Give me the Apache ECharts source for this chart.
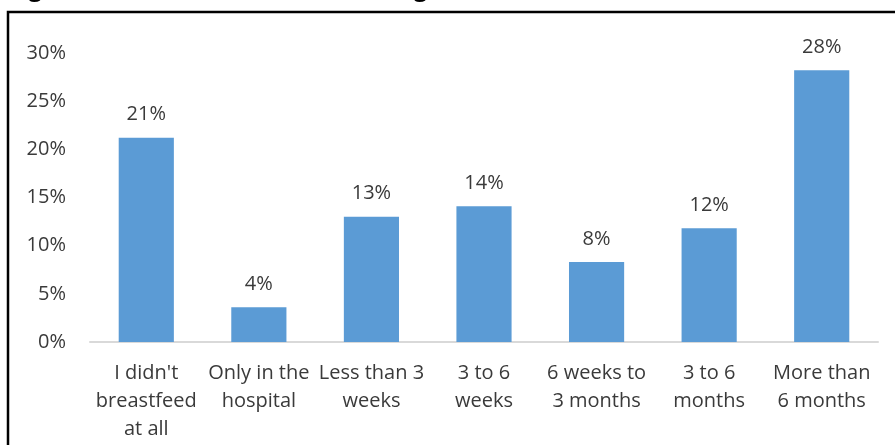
<!DOCTYPE html>
<html>
<head>
<meta charset="utf-8">
<script src="https://cdn.jsdelivr.net/npm/echarts@6/dist/echarts.min.js"></script>
<style>
  html, body { margin: 0; padding: 0; background: #fff; }
  #chart { width: 895px; height: 445px; }
</style>
</head>
<body>
<div id="chart"></div>
<script>
// data
const categories = [
  "I didn't\nbreastfeed\nat all",
  "Only in the\nhospital",
  "Less than 3\nweeks",
  "3 to 6\nweeks",
  "6 weeks to\n3 months",
  "3 to 6\nmonths",
  "More than\n6 months"
];
const shares = [21.2, 3.6, 13.0, 14.1, 8.3, 11.8, 28.2];
const yTicks = [0, 5, 10, 15, 20, 25, 30];

const titleText = "Figure 6: Duration of Breastfeeding (n=155)";
const font = "Open Sans";
const textColor = "#3a3a3a";

const chart = echarts.init(document.getElementById("chart"), null, { renderer: "canvas" });

chart.setOption({
  animation: false,
  backgroundColor: "#fff",
  grid: { left: 90, right: 17, top: 53, bottom: 103, containLabel: false },
  graphic: [
    {
      type: "rect",
      shape: { x: 8, y: 12, width: 920, height: 460 },
      style: { fill: "none", stroke: "#000", lineWidth: 2.5 },
      silent: true
    },
    {
      // title sits mostly above the visible area, only descenders show
      type: "text",
      x: 8,
      y: -11,
      style: {
        text: titleText,
        font: "bold 24px " + font,
        fill: "#000",
        verticalAlign: "middle"
      },
      silent: true
    }
  ],
  xAxis: {
    type: "category",
    data: categories,
    axisLine: { lineStyle: { color: "#D9D9D9", width: 2 } },
    axisTick: { show: false },
    axisLabel: {
      interval: 0,
      color: textColor,
      fontFamily: font,
      fontSize: 20,
      lineHeight: 28,
      margin: 17
    }
  },
  yAxis: {
    type: "value",
    min: 0,
    max: 30,
    interval: 5,
    splitLine: { show: false },
    axisLine: { show: false },
    axisTick: { show: false },
    axisLabel: {
      color: textColor,
      fontFamily: font,
      fontSize: 20,
      margin: 24,
      formatter: (v) => (yTicks.includes(v) ? v + "%" : "")
    }
  },
  series: [
    {
      type: "bar",
      data: shares,
      barWidth: "49%",
      itemStyle: { color: "#5B9BD5" },
      label: {
        show: true,
        position: "top",
        distance: 13,
        color: textColor,
        fontFamily: font,
        fontSize: 20,
        formatter: (p) => Math.round(p.value) + "%"
      }
    }
  ]
});
</script>
</body>
</html>
